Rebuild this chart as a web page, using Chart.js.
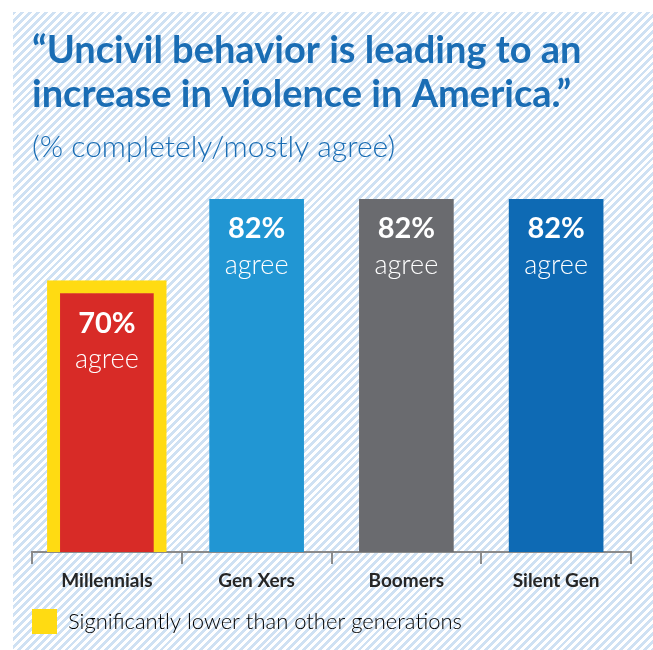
<!DOCTYPE html>
<html>
<head>
<meta charset="utf-8">
<script src="https://cdn.jsdelivr.net/npm/chart.js@4.4.1/dist/chart.umd.min.js"></script>
<style>
    html, body {
        margin: 0;
        padding: 0;
        background: #ffffff;
    }
    .poster {
        position: relative;
        width: 653px;
        height: 650px;
        overflow: hidden;
    }
    .hatch {
        position: absolute;
        left: 13px;
        top: 12px;
        right: 0;
        bottom: 0;
        background: repeating-linear-gradient(135deg, #cfe1f3 0px, #cfe1f3 2.8px, #ffffff 2.8px, #ffffff 5.6px);
    }
    #agreeChart {
        position: absolute;
        left: 0;
        top: 0;
    }
</style>
</head>
<body>
<div class="poster">
    <div class="hatch"></div>
    <canvas id="agreeChart" width="653" height="650"></canvas>
</div>
<script>
const generations = ['Millennials', 'Gen Xers', 'Boomers', 'Silent Gen'];
const agreePct = [70, 82, 82, 82];
const lowerThanOthers = [true, false, false, false];
const barColors = ['#d82b27', '#2196d3', '#6a6b6f', '#0e6ab4'];

const TITLE_BLUE = '#1a6db4';
const HIGHLIGHT = '#ffdb12';
const FONT = 'Lato, "Open Sans", sans-serif';

// white "NN%" + "agree" text inside each bar
const barLabels = {
    id: 'barLabels',
    afterDatasetsDraw(chart) {
        const ctx = chart.ctx;
        ctx.save();
        ctx.fillStyle = '#ffffff';
        ctx.textAlign = 'center';
        ctx.textBaseline = 'middle';
        chart.data.datasets.forEach((ds, di) => {
            const meta = chart.getDatasetMeta(di);
            const inset = ds.borderWidth || 0;
            meta.data.forEach((bar, i) => {
                if (ds.data[i] == null) return;
                const top = bar.y + inset;
                ctx.font = 'bold 29px ' + FONT;
                ctx.fillText(ds.data[i] + '%', bar.x, top + 30);
                ctx.font = '300 27px ' + FONT;
                ctx.fillText('agree', bar.x, top + 66);
            });
        });
        ctx.restore();
    }
};

new Chart(document.getElementById('agreeChart'), {
    type: 'bar',
    data: {
        labels: generations,
        datasets: [
            {
                label: 'Significantly lower than other generations',
                data: agreePct.map((v, i) => lowerThanOthers[i] ? v : null),
                backgroundColor: barColors,
                borderColor: HIGHLIGHT,
                borderWidth: 13,
                borderSkipped: 'start',
                barThickness: 119,
                grouped: false
            },
            {
                label: 'agree',
                data: agreePct.map((v, i) => lowerThanOthers[i] ? null : v),
                backgroundColor: barColors,
                borderWidth: 0,
                barThickness: 94,
                grouped: false
            }
        ]
    },
    options: {
        responsive: false,
        animation: false,
        events: [],
        layout: {
            padding: { left: 32, right: 22, top: 0, bottom: 6 }
        },
        scales: {
            x: {
                grid: {
                    offset: true,
                    drawOnChartArea: false,
                    drawTicks: true,
                    tickLength: 12,
                    color: '#8a8a8a',
                    lineWidth: 2
                },
                border: { display: true, color: '#8a8a8a', width: 2 },
                ticks: {
                    padding: 5,
                    color: '#262626',
                    font: { family: FONT, size: 19, weight: 'bold' }
                },
                afterFit(scale) {
                    scale.height = 57;
                }
            },
            y: {
                display: false,
                min: 30,
                max: 82
            }
        },
        plugins: {
            title: {
                display: true,
                align: 'start',
                text: ['\u201cUncivil behavior is leading to an', 'increase in violence in America.\u201d'],
                color: TITLE_BLUE,
                font: { family: FONT, size: 38, weight: 'bold', lineHeight: 44 / 38 },
                padding: { top: 29, bottom: 13 }
            },
            subtitle: {
                display: true,
                align: 'start',
                text: '(% completely/mostly agree)',
                color: TITLE_BLUE,
                font: { family: FONT, size: 30, weight: '300', lineHeight: 34 / 30 },
                padding: { top: 0, bottom: 35 }
            },
            legend: {
                position: 'bottom',
                align: 'start',
                labels: {
                    boxWidth: 25,
                    boxHeight: 25,
                    padding: 0,
                    color: '#3a3a3a',
                    font: { family: FONT, size: 22, weight: '300' },
                    generateLabels() {
                        return [{
                            text: 'Significantly lower than other generations',
                            fillStyle: HIGHLIGHT,
                            strokeStyle: HIGHLIGHT,
                            lineWidth: 0,
                            datasetIndex: 0
                        }];
                    }
                }
            },
            tooltip: { enabled: false }
        }
    },
    plugins: [barLabels]
});
</script>
</body>
</html>
